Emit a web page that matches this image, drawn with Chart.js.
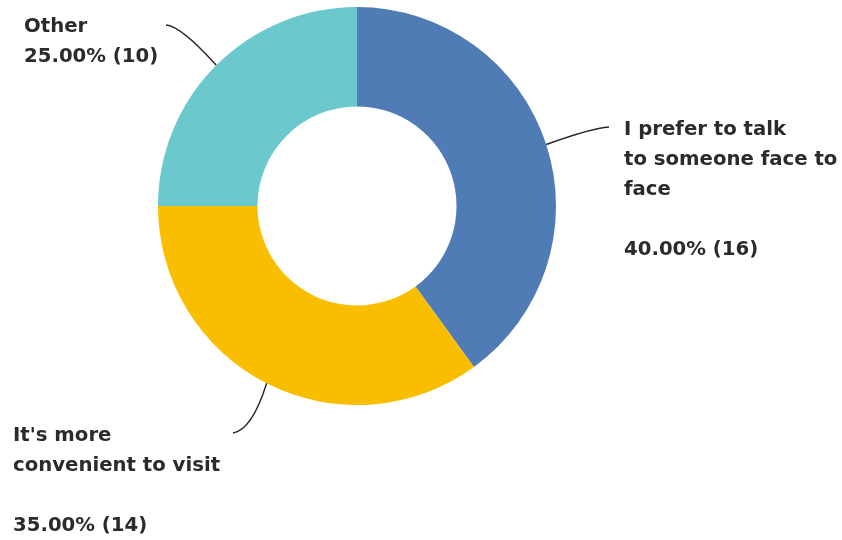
<!DOCTYPE html>
<html>
<head>
<meta charset="utf-8">
<script src="https://cdn.jsdelivr.net/npm/chart.js@4"></script>
<style>
html,body{margin:0;padding:0;background:#fff;}
#wrap{width:842px;height:540px;position:relative;}
</style>
</head>
<body>
<div id="wrap"><canvas id="c" width="842" height="540"></canvas></div>
<script>
const categories = ["I prefer to talk to someone face to face", "It's more convenient to visit", "Other"];
const percents = [40.00, 35.00, 25.00];
const counts = [16, 14, 10];
const colors = ["#507cb6", "#f9be00", "#6bc8cd"];
const labelLines = [
  ["I prefer to talk", "to someone face to", "face", "", "40.00% (16)"],
  ["It's more", "convenient to visit", "", "35.00% (14)"],
  ["Other", "25.00% (10)"]
];

// layout of callouts (positions only, not data)
const callouts = [
  {tx: 624, ty: 130, lineEnd: [609, 127], ctrl: [592, 128]},
  {tx: 13, ty: 436, lineEnd: [233, 433], ctrl: [252, 430]},
  {tx: 24, ty: 27, lineEnd: [166, 25], ctrl: [181, 26]}
];

const calloutPlugin = {
  id: 'callouts',
  afterDatasetsDraw(chart) {
    const ctx = chart.ctx;
    const meta = chart.getDatasetMeta(0);
    ctx.save();
    meta.data.forEach((arc, i) => {
      const p = arc.getProps(['x','y','startAngle','endAngle','outerRadius'], true);
      const mid = (p.startAngle + p.endAngle) / 2;
      const sx = p.x + Math.cos(mid) * p.outerRadius;
      const sy = p.y + Math.sin(mid) * p.outerRadius;
      const c = callouts[i];
      ctx.beginPath();
      ctx.moveTo(sx, sy);
      ctx.quadraticCurveTo(c.ctrl[0], c.ctrl[1], c.lineEnd[0], c.lineEnd[1]);
      ctx.strokeStyle = '#262626';
      ctx.lineWidth = 1.4;
      ctx.stroke();
      ctx.fillStyle = '#2b2b2b';
      ctx.font = 'bold 19.7px "DejaVu Sans", sans-serif';
      ctx.textBaseline = 'middle';
      ctx.textAlign = 'left';
      labelLines[i].forEach((t, j) => {
        if (t) ctx.fillText(t, c.tx, c.ty + j * 30);
      });
    });
    ctx.restore();
  }
};

new Chart(document.getElementById('c'), {
  type: 'doughnut',
  data: {
    labels: categories,
    datasets: [{
      data: percents,
      backgroundColor: colors,
      borderWidth: 0
    }]
  },
  options: {
    responsive: false,
    animation: false,
    cutout: '50%',
    layout: {padding: {top: 7, bottom: 135, left: 158, right: 286}},
    plugins: {
      legend: {display: false},
      tooltip: {enabled: false}
    }
  },
  plugins: [calloutPlugin]
});
</script>
</body>
</html>
